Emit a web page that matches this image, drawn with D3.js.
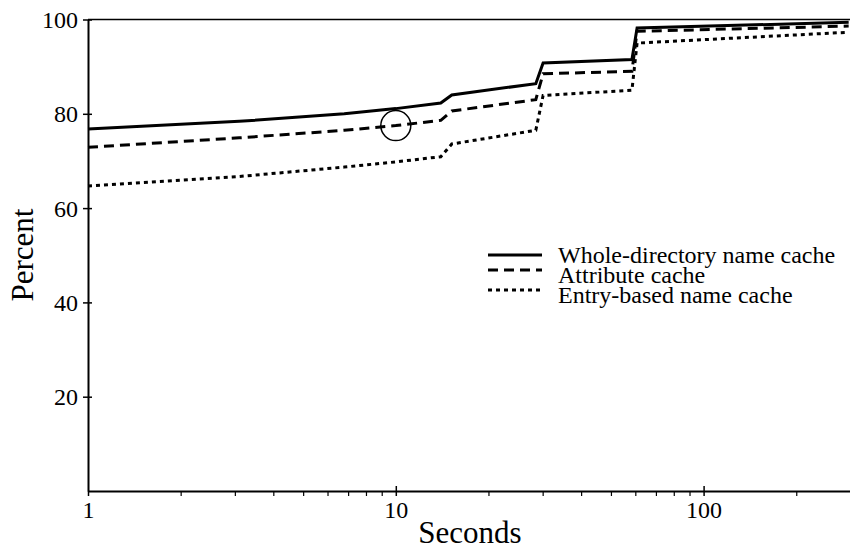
<!DOCTYPE html>
<html>
<head>
<meta charset="utf-8">
<script src="https://cdn.jsdelivr.net/npm/d3@7"></script>
<style>
  body { margin: 0; background: #fff; }
  svg text { font-family: "Liberation Serif", "Times New Roman", serif; fill: #000; }
</style>
</head>
<body>
<div id="chart"></div>
<script>
// chart data
var seconds = [1, 3.1, 6.8, 10, 14, 15.2, 28.5, 30.1, 58.5, 60.8, 296];
var wholeDir = [76.8, 78.4, 80.0, 81.1, 82.3, 84.0, 86.4, 90.8, 91.5, 98.2, 99.4];
var attrCache = [72.9, 74.9, 76.5, 77.5, 78.6, 80.6, 83.0, 88.5, 89.0, 97.5, 98.6];
var entryCache = [64.7, 66.7, 68.7, 69.8, 70.9, 73.6, 76.5, 83.9, 85.0, 95.0, 97.3];

var seriesNames = ["Whole-directory name cache", "Attribute cache", "Entry-based name cache"];
var majorTicksX = [1, 10, 100];
var minorTicksX = [2, 3, 4, 5, 6, 7, 8, 9, 20, 30, 40, 50, 60, 70, 80, 90, 200];
var ticksY = [20, 40, 60, 80, 100];
var marker = { x: 10, y: 77.5 };

// svg size
var svgWidth = 850;
var svgHeight = 550;

var margin = { top: 19.5, right: 0, bottom: 59, left: 88 };

var svg = d3.select('#chart')
    .append('svg')
    .attr('width', svgWidth)
    .attr('height', svgHeight);

var xScale = d3.scaleLog()
    .domain([1, 300])
    .range([margin.left, margin.left + 307.8 * Math.log10(300)]);

var yScale = d3.scaleLinear()
    .domain([0, 100])
    .range([svgHeight - margin.bottom, margin.top]);

var x0 = xScale.range()[0], x1 = xScale.range()[1];
var y0 = yScale(0), yTop = yScale(100);

// top frame line
svg.append('line')
    .attr('x1', x0).attr('x2', x1)
    .attr('y1', yTop).attr('y2', yTop)
    .attr('stroke', '#000')
    .attr('stroke-width', 1.5);

// minor x ticks
svg.append('g')
    .attr('transform', `translate(0,${y0})`)
    .call(d3.axisBottom(xScale).tickValues(minorTicksX).tickSize(5).tickFormat(''))
    .call(g => g.select('.domain').remove())
    .call(g => g.selectAll('line').attr('stroke-width', 1.2));

// major x axis
var xAxis = svg.append('g')
    .attr('transform', `translate(0,${y0})`)
    .call(d3.axisBottom(xScale).tickValues(majorTicksX).tickSize(5).tickSizeOuter(0).tickFormat(d3.format('d')));

xAxis.select('.domain').attr('stroke-width', 2);
xAxis.selectAll('.tick line').attr('y1', d => d === 1 ? 0 : -5).attr('stroke-width', 1.5);
xAxis.selectAll('.tick text')
    .attr('y', 27)
    .attr('dy', 0)
    .style('font-size', '24px');

// y axis
var yAxis = svg.append('g')
    .attr('transform', `translate(${x0},0)`)
    .call(d3.axisLeft(yScale).tickValues(ticksY).tickSize(5).tickSizeOuter(0));

yAxis.select('.domain').attr('stroke-width', 2);
yAxis.selectAll('.tick line').attr('x1', -5).attr('x2', 4).attr('stroke-width', 1.5);
yAxis.selectAll('.tick text')
    .attr('x', -10)
    .attr('dy', '0.33em')
    .style('font-size', '24px');

// axis titles
svg.append('text')
    .attr('x', 470)
    .attr('y', 543)
    .attr('text-anchor', 'middle')
    .style('font-size', '31px')
    .text('Seconds');

svg.append('text')
    .attr('transform', 'translate(33,255)rotate(-90)')
    .attr('text-anchor', 'middle')
    .style('font-size', '31px')
    .text('Percent');

// lines
var series = [
    { name: seriesNames[0], values: wholeDir, dash: null },
    { name: seriesNames[1], values: attrCache, dash: '10,6' },
    { name: seriesNames[2], values: entryCache, dash: '4,4' }
];

var line = d3.line()
    .x(d => xScale(d[0]))
    .y(d => yScale(d[1]));

series.forEach(s => {
    svg.append('path')
        .datum(seconds.map((t, i) => [t, s.values[i]]))
        .attr('d', line)
        .attr('fill', 'none')
        .attr('stroke', '#000')
        .attr('stroke-width', 3)
        .attr('stroke-dasharray', s.dash);
});

// circle marker
svg.append('circle')
    .attr('cx', xScale(marker.x))
    .attr('cy', yScale(marker.y))
    .attr('r', 15)
    .attr('fill', 'none')
    .attr('stroke', '#000')
    .attr('stroke-width', 1.5);

// legend
var legendLineY = [255, 270, 290];
var legendTextY = [263, 283, 303];
var legend = svg.append('g');

series.forEach((s, i) => {
    legend.append('line')
        .attr('x1', 488).attr('x2', 542)
        .attr('y1', legendLineY[i]).attr('y2', legendLineY[i])
        .attr('stroke', '#000')
        .attr('stroke-width', 3)
        .attr('stroke-dasharray', s.dash);
    legend.append('text')
        .attr('x', 558)
        .attr('y', legendTextY[i])
        .style('font-size', '24px')
        .text(s.name);
});
</script>
</body>
</html>
